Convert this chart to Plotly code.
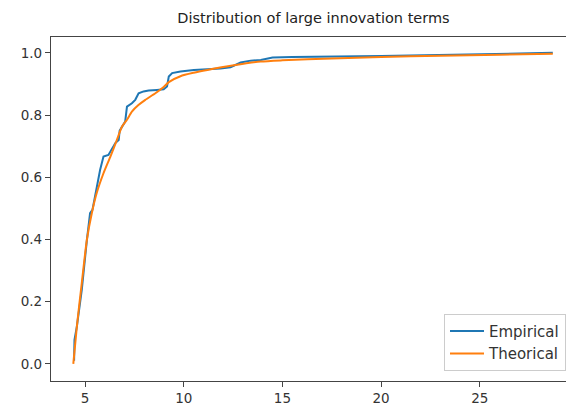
import plotly.graph_objects as go

# Empirical distribution
emp_x = [4.44, 4.46, 4.58, 4.83, 5.09, 5.25, 5.37, 5.59, 5.76, 5.93, 6.18, 6.53, 6.70, 6.75,
         7.03, 7.12, 7.37, 7.54, 7.71, 7.96, 8.22, 8.64, 8.98, 9.15, 9.24, 9.41, 9.83,
         10.51, 11.19, 11.86, 12.37, 12.88, 13.39, 13.90, 14.50, 15.50, 20.0, 25.0, 28.7]
emp_y = [0.01, 0.077, 0.12, 0.238, 0.399, 0.485, 0.495, 0.570, 0.624, 0.667, 0.672, 0.710, 0.720, 0.750,
         0.779, 0.827, 0.838, 0.849, 0.870, 0.876, 0.879, 0.881, 0.883, 0.892, 0.924, 0.935, 0.940,
         0.945, 0.947, 0.950, 0.954, 0.969, 0.975, 0.977, 0.985, 0.987, 0.990, 0.995, 1.000]

# Theoretical distribution
theo_x = [4.40, 4.58, 4.83, 5.09, 5.34, 5.59, 5.93, 6.27, 6.61, 6.87, 7.12, 7.37, 7.70, 8.05,
          8.56, 8.98, 9.24, 9.83, 10.5, 11.19, 12.54, 13.9, 15.0, 17.5, 20.0, 23.0, 26.0, 28.7]
theo_y = [0.0, 0.12, 0.26, 0.40, 0.485, 0.55, 0.613, 0.665, 0.72, 0.763, 0.785, 0.811, 0.832, 0.849,
          0.870, 0.890, 0.906, 0.925, 0.936, 0.945, 0.960, 0.972, 0.976, 0.982, 0.987, 0.991, 0.994, 0.997]

x_ticks = [5, 10, 15, 20, 25]
y_ticks = [0.0, 0.2, 0.4, 0.6, 0.8, 1.0]
y_tick_labels = ["0.0", "0.2", "0.4", "0.6", "0.8", "1.0"]

fig = go.Figure()
fig.add_trace(go.Scatter(x=emp_x, y=emp_y, mode="lines", name="Empirical", legendgroup="a",
                         line=dict(color="#1f77b4", width=2)))
fig.add_trace(go.Scatter(x=theo_x, y=theo_y, mode="lines", name="Theorical", legendgroup="b",
                         line=dict(color="#ff7f0e", width=2, shape="spline", smoothing=0.6)))

axis_common = dict(showgrid=False, zeroline=False, showline=True, linecolor="#444",
                   linewidth=1.3, ticks="outside", ticklen=5, tickcolor="#444", tickwidth=1.2,
                   tickfont=dict(family="DejaVu Sans", size=13.5, color="#333"))

fig.update_layout(
    width=566, height=405,
    margin=dict(l=51, r=0, t=37, b=24),
    paper_bgcolor="white", plot_bgcolor="white",
    font=dict(family="DejaVu Sans", color="#333"),
    title=dict(text="Distribution of large innovation terms", xref="container", x=313.5 / 566,
               xanchor="center", y=1 - 18 / 405, yanchor="middle",
               font=dict(family="DejaVu Sans", size=14.5, color="#222")),
    xaxis=dict(range=[3.27, 29.37], tickvals=x_ticks, mirror=True, **axis_common),
    yaxis=dict(range=[-0.055, 1.051], tickvals=y_ticks, ticktext=y_tick_labels, **axis_common),
    legend=dict(x=1.0, xanchor="right", y=0.03, yanchor="bottom", tracegroupgap=0,
                itemwidth=34,
                bgcolor="rgba(255,255,255,0.9)", bordercolor="#ccc", borderwidth=1,
                font=dict(family="DejaVu Sans", size=15, color="#333")),
    showlegend=True,
)

fig.write_html("out.html", config={"displayModeBar": False},
               post_script="document.body.style.margin='0';document.body.style.padding='0';")
